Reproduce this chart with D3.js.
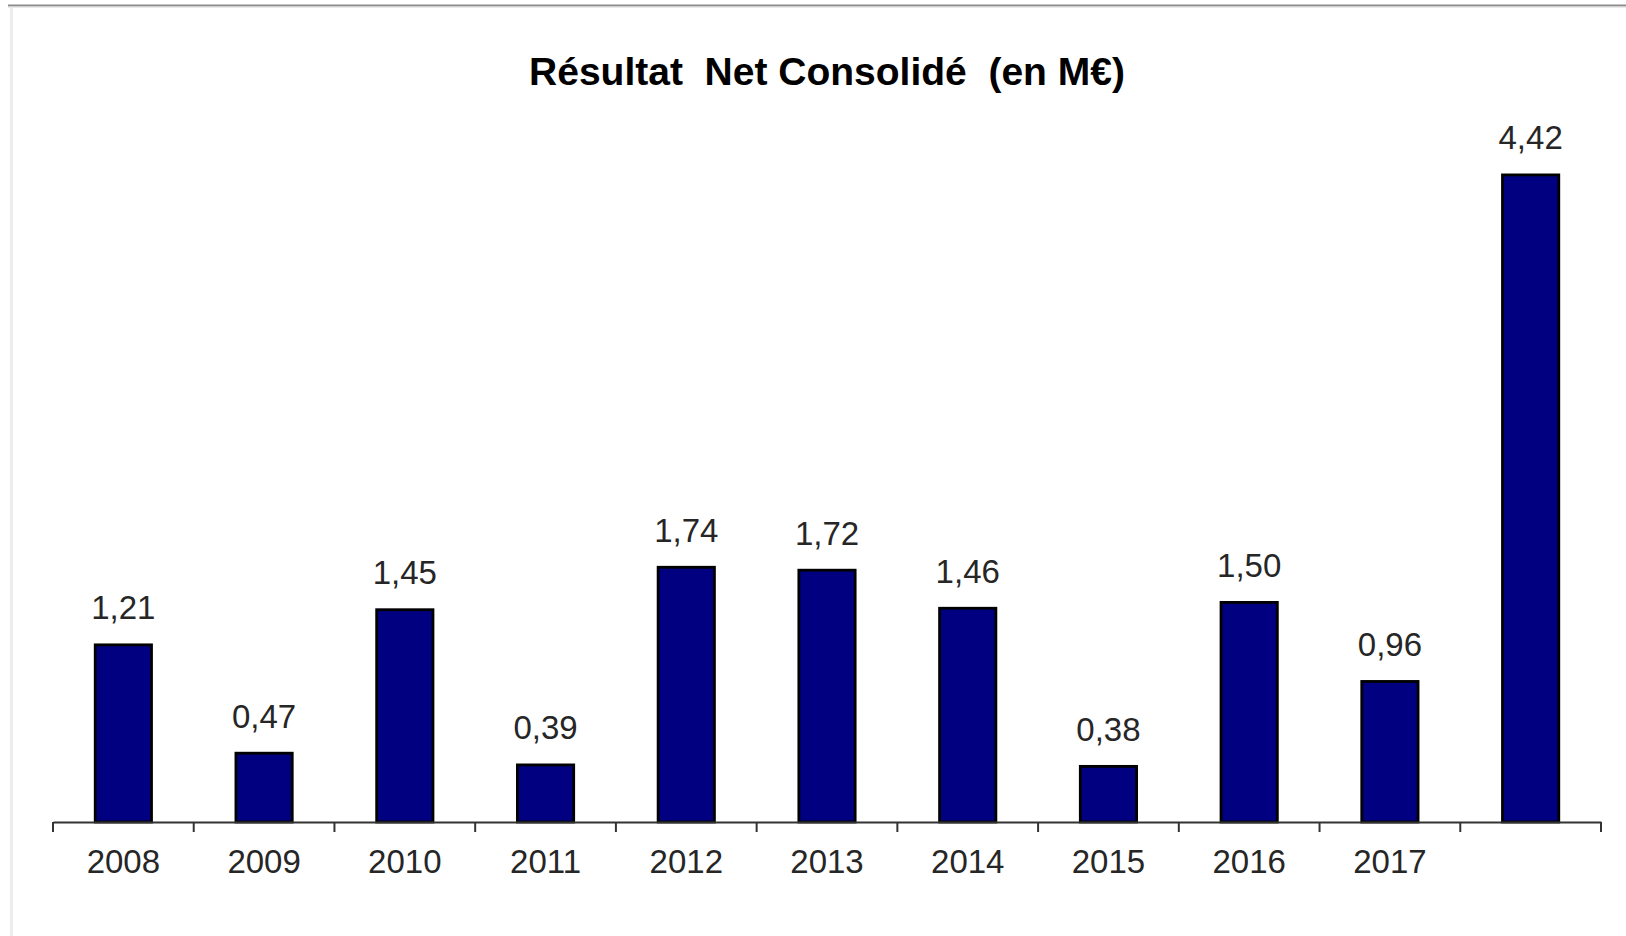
<!DOCTYPE html>
<html>
<head>
<meta charset="utf-8">
<script src="https://cdn.jsdelivr.net/npm/d3@7"></script>
<style>
  html, body { margin: 0; padding: 0; background: #fff; }
  svg { display: block; }
  text { font-family: "Liberation Sans", Arial, sans-serif; }
</style>
</head>
<body>
<svg id="chart" width="1626" height="936"></svg>
<script>
const title = "Résultat  Net Consolidé  (en M€)";
const categories = ["2008", "2009", "2010", "2011", "2012", "2013", "2014", "2015", "2016", "2017", ""];
const values = [1.21, 0.47, 1.45, 0.39, 1.74, 1.72, 1.46, 0.38, 1.50, 0.96, 4.42];
const valueLabels = ["1,21", "0,47", "1,45", "0,39", "1,74", "1,72", "1,46", "0,38", "1,50", "0,96", "4,42"];
const yDomain = [0, 5];

const W = 1626, H = 936;
const svg = d3.select("#chart");

// frame lines (top border + left shadow)
svg.append("line").attr("x1", 8).attr("x2", W).attr("y1", 5.5).attr("y2", 5.5)
  .attr("stroke", "#8c8c8c").attr("stroke-width", 2);
svg.append("line").attr("x1", 8).attr("x2", W).attr("y1", 7).attr("y2", 7)
  .attr("stroke", "#d8d8d8").attr("stroke-width", 1);
svg.append("line").attr("x1", 11.5).attr("x2", 11.5).attr("y1", 8).attr("y2", H)
  .attr("stroke", "#ececec").attr("stroke-width", 3);

const x = d3.scaleBand().domain(categories).range([53, 1601])
  .paddingInner(0.6).paddingOuter(0.3);
const y = d3.scaleLinear().domain(yDomain).range([822, 90]);

const data = categories.map((c, i) => ({c, v: values[i], l: valueLabels[i]}));

// title
svg.append("text")
  .attr("x", (x.range()[0] + x.range()[1]) / 2)
  .attr("y", 85)
  .attr("text-anchor", "middle")
  .style("white-space", "pre")
  .attr("font-size", 39)
  .attr("font-weight", "bold")
  .attr("fill", "#000")
  .text(title);

// bars
svg.append("g").selectAll("rect").data(data).join("rect")
  .attr("x", d => x(d.c))
  .attr("y", d => y(d.v))
  .attr("width", x.bandwidth())
  .attr("height", d => y(0) - y(d.v))
  .attr("fill", "#000080")
  .attr("stroke", "#000")
  .attr("stroke-width", 2.8);

// value labels
svg.append("g").selectAll("text").data(data).join("text")
  .attr("x", d => x(d.c) + x.bandwidth() / 2)
  .attr("y", d => y(d.v) - 25.5)
  .attr("text-anchor", "middle")
  .attr("font-size", 33)
  .attr("fill", "#262626")
  .text(d => d.l);

// x axis
const axisG = svg.append("g").attr("transform", `translate(0,${y(0)})`)
  .call(d3.axisBottom(x).tickSize(0).tickSizeOuter(0));
axisG.select(".domain").attr("stroke", "#333").attr("stroke-width", 2);
axisG.selectAll(".tick text")
  .attr("y", 50.7).attr("dy", 0)
  .attr("font-size", 33)
  .attr("font-family", "'Liberation Sans', Arial, sans-serif")
  .attr("fill", "#262626");

// boundary tick marks between categories
const step = x.step();
const boundaries = categories.map(c => x(c) - x.paddingOuter() * step).concat([x.range()[1]]);
axisG.selectAll("line.bound").data(boundaries).join("line")
  .attr("class", "bound")
  .attr("x1", d => d).attr("x2", d => d)
  .attr("y1", 0).attr("y2", 10)
  .attr("stroke", "#333").attr("stroke-width", 2);
</script>
</body>
</html>
